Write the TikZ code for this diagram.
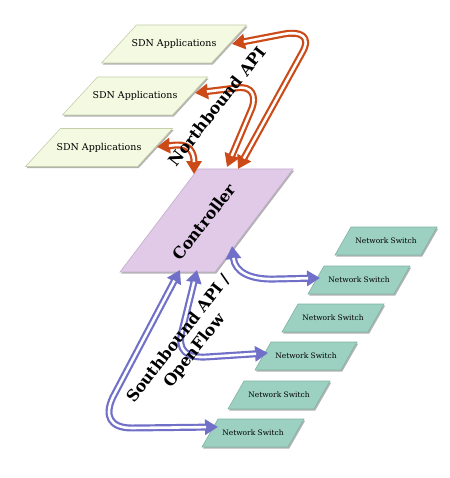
\documentclass[tikz,border=0pt]{standalone}
\usepackage{fontspec}
\setmainfont{DejaVu Serif}
\usetikzlibrary{arrows.meta,shadows}
\definecolor{sdnfill}{HTML}{F4F9E1}
\definecolor{sdndraw}{HTML}{C6CEAA}
\definecolor{ctrlfill}{HTML}{E1C9E8}
\definecolor{ctrldraw}{HTML}{C2ACCC}
\definecolor{swfill}{HTML}{9CD0C1}
\definecolor{swdraw}{HTML}{7FB3A3}
\definecolor{nbcol}{HTML}{CB4A18}
\definecolor{sbcol}{HTML}{7070C9}
\tikzset{
  boxshadow/.style={drop shadow={shadow xshift=1.2pt,shadow yshift=-1.6pt,fill=black,opacity=.3}},
  sdnbox/.style={fill=sdnfill,draw=sdndraw,line width=.6pt,boxshadow},
  ctrlbox/.style={fill=ctrlfill,draw=ctrldraw,line width=.6pt,boxshadow},
  swbox/.style={fill=swfill,draw=swdraw,line width=.6pt,boxshadow},
  sdnlabel/.style={font=\fontsize{9.5}{11}\selectfont,inner sep=0pt},
  swlabel/.style={font=\fontsize{7.5}{9}\selectfont,inner sep=0pt},
  biglabel/.style={font=\fontsize{16}{20}\selectfont\bfseries,inner sep=0pt,align=center,rotate=52}
}
% name, cx, cy, width, height, slant, shape style, label style, text
\newcommand{\pgram}[9]{%
  \path[#7] ({#2-#4/2+#6/2},{#3-#5/2}) -- ++(#4,0) -- ++(-#6,#5) -- ++(-#4,0) -- cycle;
  \node[#8] (#1) at (#2,#3) {#9};
}
% colour, path
\newcommand{\dblarrow}[2]{%
  \draw[line width=7pt,draw=#1,line join=round,
    {Triangle[length=13pt,width=15pt,fill=#1]}-{Triangle[length=13pt,width=15pt,fill=#1]}] #2;
  \draw[line width=2.6pt,white,line join=round,shorten <=12pt,shorten >=12pt] #2;
}
\begin{document}
\begin{tikzpicture}[x=1bp,y=-1bp]
\fill[white] (0,0) rectangle (450,478);
\useasboundingbox (0,0) rectangle (450,478);

% SDN applications
\pgram{app1}{174}{44}{110}{38}{35}{sdnbox}{sdnlabel}{SDN Applications}
\pgram{app2}{135}{96}{110}{38}{35}{sdnbox}{sdnlabel}{SDN Applications}
\pgram{app3}{99}{147.5}{112}{38}{35}{sdnbox}{sdnlabel}{SDN Applications}

% Controller
\pgram{ctrl}{206.5}{220.5}{95}{103}{78}{ctrlbox}{inner sep=0pt}{}

% Network switches
\pgram{sw1}{386}{241}{86}{28}{16}{swbox}{swlabel}{Network Switch}
\pgram{sw2}{359}{280}{86}{28}{16}{swbox}{swlabel}{Network Switch}
\pgram{sw3}{333}{318}{86}{28}{16}{swbox}{swlabel}{Network Switch}
\pgram{sw4}{306}{356}{86}{28}{16}{swbox}{swlabel}{Network Switch}
\pgram{sw5}{279}{395}{86}{28}{16}{swbox}{swlabel}{Network Switch}
\pgram{sw6}{253}{433}{86}{28}{16}{swbox}{swlabel}{Network Switch}

% connector end points
\coordinate (n1c) at (238,169);
\coordinate (n1b) at (232,44);
\coordinate (n2c) at (227,167);
\coordinate (n2b) at (195,93);
\coordinate (n3c) at (194,174);
\coordinate (n3b) at (157,147);
\coordinate (sAc) at (180,270);
\coordinate (sAs) at (218,427);
\coordinate (sBc) at (197,270);
\coordinate (sBs) at (268,353);
\coordinate (sCc) at (232,246);
\coordinate (sCs) at (320,278);

% Northbound arrows
\dblarrow{nbcol}{(n1c) -- (302,53) .. controls (312,36) and (300,31) .. (284,34) -- (n1b)}
\dblarrow{nbcol}{(n2b) -- (236,88) .. controls (253,85) and (256,97) .. (252,108) -- (n2c)}
\dblarrow{nbcol}{(n3b) -- (176,145) .. controls (190,144) and (194,153) .. (n3c)}

% Southbound arrows
\dblarrow{sbcol}{(sAc) -- (113,397) .. controls (104,416) and (110,428) .. (132,428) -- (sAs)}
\dblarrow{sbcol}{(sBc) -- (182,331) .. controls (177,350) and (186,358) .. (206,357) -- (sBs)}
\dblarrow{sbcol}{(sCc) .. controls (235,272) and (250,280) .. (276,279) -- (sCs)}

% big labels
\node[biglabel] (nb) at (217,106) {Northbound API};
\node[biglabel] (ct) at (204,222) {Controller};
\node[biglabel] (sb) at (187,345) {Southbound API /\\OpenFlow};
\end{tikzpicture}
\end{document}
